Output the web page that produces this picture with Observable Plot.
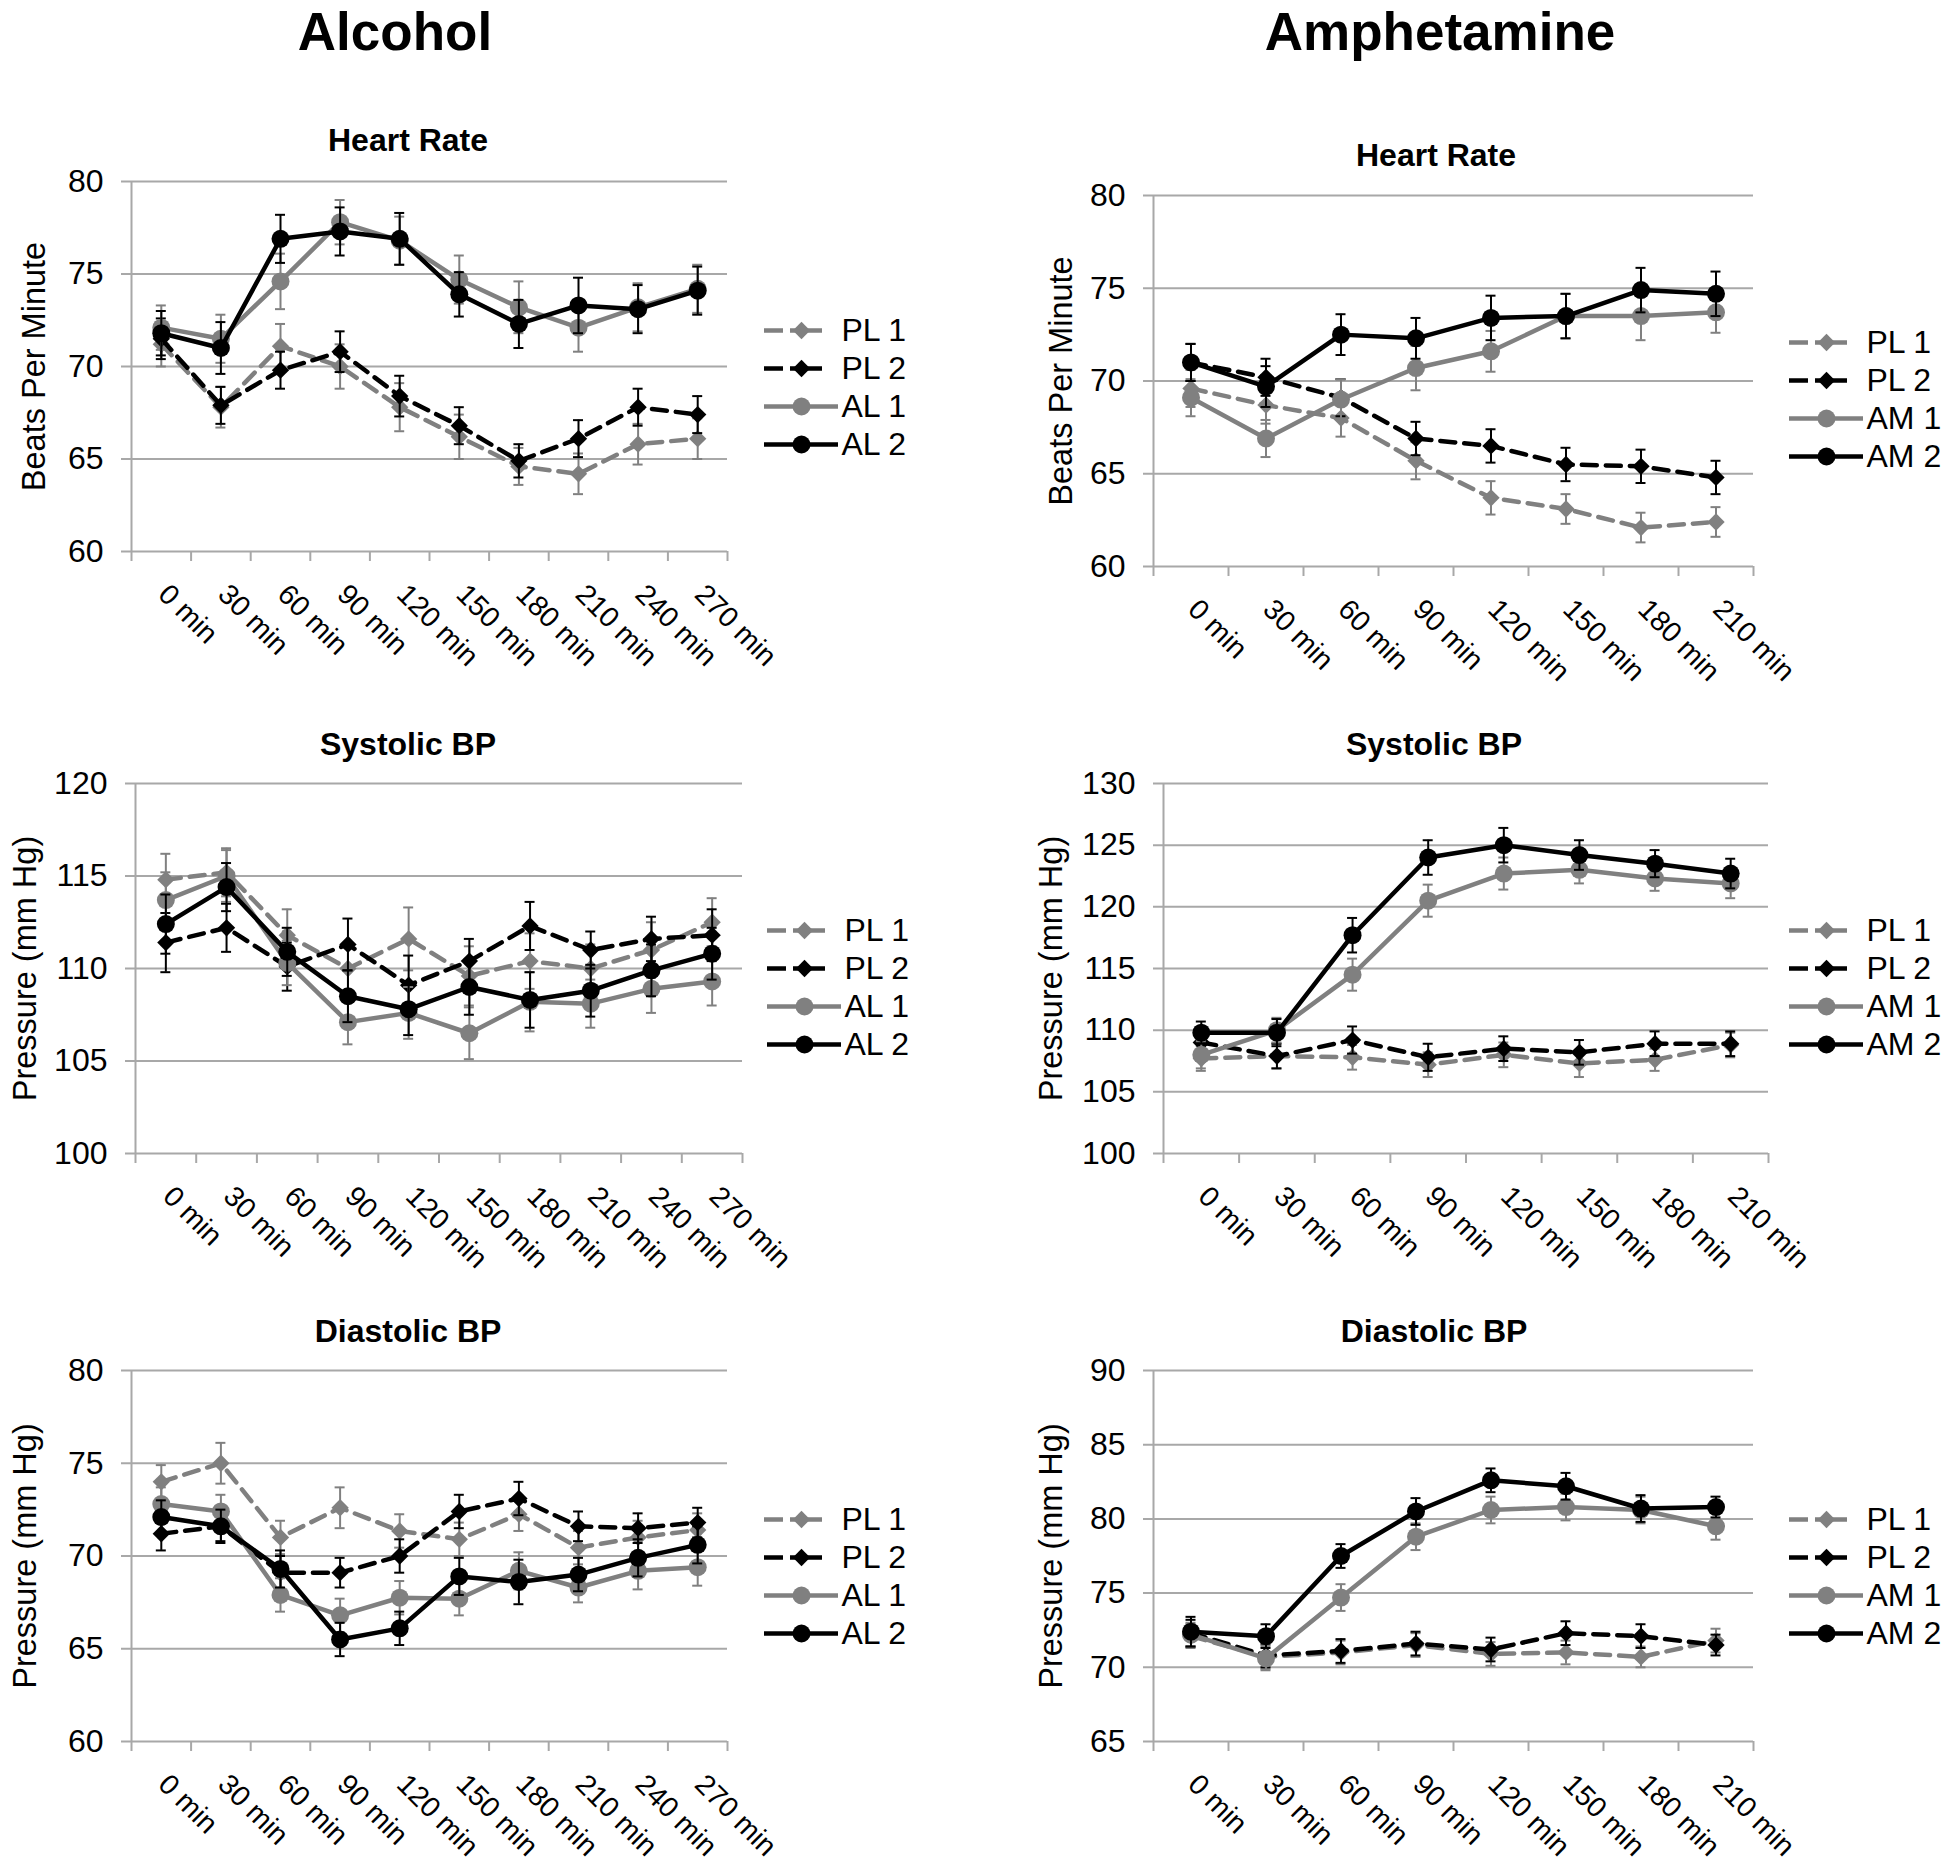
<!DOCTYPE html>
<html><head><meta charset="utf-8">
<script src="https://cdn.jsdelivr.net/npm/d3@7"></script>
<script src="https://cdn.jsdelivr.net/npm/@observablehq/plot@0.6"></script>
<style>
body{margin:0;background:#fff;}
#root{position:relative;width:1950px;height:1872px;overflow:hidden;font-family:"Liberation Sans",Arial,sans-serif;background:#fff;}
.abs{position:absolute;}
.abs svg{max-width:none !important;}
.main{font-weight:bold;font-size:53px;line-height:1.15;transform:translate(-50%,-50%);white-space:nowrap;}
.sub{font-weight:bold;font-size:32px;line-height:1.15;transform:translate(-50%,-50%);white-space:nowrap;}
</style></head>
<body><div id="root"></div>
<script>
// ---------- categories ----------
const alcTimes = ["0 min","30 min","60 min","90 min","120 min","150 min","180 min","210 min","240 min","270 min"];
const amphTimes = ["0 min","30 min","60 min","90 min","120 min","150 min","180 min","210 min"];
const alcNames = ["PL 1","PL 2","AL 1","AL 2"];
const amphNames = ["PL 1","PL 2","AM 1","AM 2"];

// ---------- tick labels ----------
const hrTicks = [60,65,70,75,80];
const alcSbpTicks = [100,105,110,115,120];
const amphSbpTicks = [100,105,110,115,120,125,130];
const alcDbpTicks = [60,65,70,75,80];
const amphDbpTicks = [65,70,75,80,85,90];

// ---------- Alcohol: Heart Rate ----------
const alcHR_PL1 = [71.2,67.8,71.1,70.0,67.8,66.2,64.6,64.2,65.8,66.1];
const alcHR_PL2 = [71.5,67.9,69.8,70.8,68.4,66.8,64.9,66.1,67.8,67.4];
const alcHR_AL1 = [72.1,71.5,74.6,77.8,76.8,74.7,73.2,72.1,73.2,74.2];
const alcHR_AL2 = [71.8,71.0,76.9,77.3,76.9,73.9,72.3,73.3,73.1,74.1];
const alcHR_PL1_se = [1.2,1.1,1.2,1.2,1.3,1.2,1.0,1.1,1.1,1.1];
const alcHR_PL2_se = [1.1,1.0,1.0,1.1,1.1,1.0,0.9,1.0,1.0,1.0];
const alcHR_AL1_se = [1.2,1.3,1.5,1.2,1.3,1.3,1.4,1.3,1.3,1.3];
const alcHR_AL2_se = [1.2,1.4,1.3,1.3,1.4,1.2,1.3,1.5,1.3,1.3];

// ---------- Amphetamine: Heart Rate ----------
const amphHR_PL1 = [69.6,68.7,68.0,65.7,63.7,63.1,62.1,62.4];
const amphHR_PL2 = [71.0,70.2,69.1,66.9,66.5,65.5,65.4,64.8];
const amphHR_AM1 = [69.1,66.9,69.0,70.7,71.6,73.5,73.5,73.7];
const amphHR_AM2 = [71.0,69.7,72.5,72.3,73.4,73.5,74.9,74.7];
const amphHR_PL1_se = [1.0,1.0,1.0,1.0,0.9,0.8,0.8,0.8];
const amphHR_PL2_se = [1.0,1.0,1.0,0.9,0.9,0.9,0.9,0.9];
const amphHR_AM1_se = [1.0,1.0,1.1,1.2,1.1,1.2,1.3,1.1];
const amphHR_AM2_se = [1.0,1.1,1.1,1.1,1.2,1.2,1.2,1.2];

// ---------- Alcohol: Systolic BP ----------
const alcSBP_PL1 = [114.8,115.2,111.8,110.0,111.6,109.6,110.4,110.0,111.0,112.5];
const alcSBP_PL2 = [111.4,112.2,110.1,111.3,109.1,110.4,112.3,111.0,111.6,111.8];
const alcSBP_AL1 = [113.7,115.0,110.3,107.1,107.6,106.5,108.2,108.1,108.9,109.3];
const alcSBP_AL2 = [112.4,114.4,110.9,108.5,107.8,109.0,108.3,108.8,109.9,110.8];
const alcSBP_PL1_se = [1.4,1.3,1.4,1.3,1.7,1.6,1.5,1.3,1.5,1.3];
const alcSBP_PL2_se = [1.6,1.3,1.3,1.4,1.6,1.2,1.3,1.0,1.2,1.4];
const alcSBP_AL1_se = [1.5,1.4,1.2,1.2,1.4,1.4,1.6,1.3,1.3,1.3];
const alcSBP_AL2_se = [1.6,1.3,1.3,1.4,1.4,1.5,1.5,1.4,1.4,1.4];

// ---------- Amphetamine: Systolic BP ----------
const amphSBP_PL1 = [107.7,107.9,107.8,107.2,108.0,107.3,107.6,108.8];
const amphSBP_PL2 = [109.0,107.9,109.2,107.8,108.5,108.2,108.9,108.9];
const amphSBP_AM1 = [108.0,110.0,114.5,120.5,122.7,123.0,122.3,121.9];
const amphSBP_AM2 = [109.8,109.8,117.7,124.0,125.0,124.2,123.5,122.7];
const amphSBP_PL1_se = [1.0,1.0,1.0,1.0,1.0,1.1,0.9,1.0];
const amphSBP_PL2_se = [0.9,1.0,1.1,1.1,1.0,1.0,1.0,1.0];
const amphSBP_AM1_se = [1.1,1.0,1.3,1.3,1.3,1.1,1.0,1.2];
const amphSBP_AM2_se = [0.9,1.1,1.4,1.4,1.4,1.2,1.1,1.2];

// ---------- Alcohol: Diastolic BP ----------
const alcDBP_PL1 = [74.0,75.0,71.0,72.6,71.35,70.9,72.25,70.45,71.0,71.4];
const alcDBP_PL2 = [71.2,71.6,69.1,69.1,70.0,72.4,73.1,71.6,71.5,71.8];
const alcDBP_AL1 = [72.8,72.4,67.9,66.8,67.75,67.7,69.2,68.3,69.2,69.4];
const alcDBP_AL2 = [72.1,71.6,69.3,65.5,66.1,68.9,68.6,69.0,69.9,70.6];
const alcDBP_PL1_se = [0.9,1.1,0.9,1.1,0.9,0.9,0.9,0.9,0.9,0.9];
const alcDBP_PL2_se = [0.9,0.8,0.9,0.8,0.9,0.9,0.9,0.8,0.8,0.8];
const alcDBP_AL1_se = [0.9,0.9,0.9,0.9,0.9,0.9,1.0,0.8,1.0,1.0];
const alcDBP_AL2_se = [0.9,0.9,1.0,0.9,0.9,1.0,1.2,0.9,1.0,1.0];

// ---------- Amphetamine: Diastolic BP ----------
const amphDBP_PL1 = [72.1,70.7,71.0,71.5,70.9,71.0,70.7,71.8];
const amphDBP_PL2 = [72.3,70.8,71.1,71.6,71.2,72.3,72.1,71.5];
const amphDBP_AM1 = [72.2,70.6,74.7,78.8,80.6,80.8,80.6,79.5];
const amphDBP_AM2 = [72.4,72.1,77.5,80.5,82.6,82.2,80.7,80.8];
const amphDBP_PL1_se = [0.8,0.8,0.8,0.8,0.8,0.8,0.7,0.8];
const amphDBP_PL2_se = [0.9,0.8,0.8,0.8,0.8,0.8,0.8,0.7];
const amphDBP_AM1_se = [0.8,0.8,0.9,0.9,0.9,0.9,0.9,0.9];
const amphDBP_AM2_se = [1.0,0.8,0.8,0.9,0.8,0.9,0.9,0.7];

// ---------- styling ----------
const GRAY = "#808080", BLACK = "#000000", GRID = "#a8a8a8";
const REG = "'Liberation Sans',Arial,sans-serif";
const styles = [
  {stroke: GRAY, dash: "15 9", legendDash: "19 7 32 100", symbol: "diamond2", r: 7.8},
  {stroke: BLACK, dash: "15 9", legendDash: "19 7 32 100", symbol: "diamond2", r: 7.8},
  {stroke: GRAY, dash: null, legendDash: null, symbol: "circle", r: 9},
  {stroke: BLACK, dash: null, legendDash: null, symbol: "circle", r: 9}
];

const root = document.getElementById("root");
function place(node, x, y, w) {
  const d = document.createElement("div");
  d.className = "abs"; d.style.left = x + "px"; d.style.top = y + "px"; d.style.width = w + "px";
  d.appendChild(node); root.appendChild(d); return d;
}
function label(text, cls, x, y) {
  const d = document.createElement("div");
  d.className = "abs " + cls; d.textContent = text;
  d.style.left = x + "px"; d.style.top = y + "px";
  root.appendChild(d);
}

function panel(cfg) {
  const {times, values, ses, ticks, left, right, top, bottom, ytitle, ytitleDx} = cfg;
  const n = times.length;
  const dmin = ticks[0], dmax = ticks[ticks.length - 1];
  const mL = 150, mR = 10, mT = 10, mB = 150;
  const boundaries = d3.range(n + 1).map(k => k - 0.5);
  const marks = [
    Plot.ruleY(ticks, {y: d => d, x1: -0.5, x2: n - 0.5, stroke: GRID, strokeWidth: 2, insetLeft: -10}),
    Plot.ruleX([-0.5], {x: d => d, y1: dmin, y2: dmax, stroke: GRID, strokeWidth: 2}),
    Plot.ruleX(boundaries, {x: d => d, y1: dmin, y2: dmin, insetBottom: -10, stroke: GRID, strokeWidth: 2}),
    Plot.text(ticks, {x: -0.5, y: d => d, text: d => String(d), textAnchor: "end", dx: -28, fontSize: 32, fontFamily: REG, fill: "#000"}),
    Plot.text(times, {x: (d, i) => i, y: dmin, text: d => d, rotate: 45, textAnchor: "start", dx: 2, dy: 38, fontSize: 28.5, fontFamily: REG, fill: "#000"}),
    Plot.text([ytitle], {frameAnchor: "left", text: d => d, rotate: -90, textAnchor: "middle", dx: ytitleDx, fontSize: 32.5, fontFamily: REG, fill: "#000"})
  ];
  values.forEach((vals, s) => {
    const st = styles[s];
    const rows = vals.map((v, i) => ({i, v, e: ses[s][i]}));
    marks.push(
      Plot.ruleX(rows, {x: "i", y1: d => d.v - d.e, y2: d => d.v + d.e, stroke: st.stroke, strokeWidth: 2}),
      Plot.ruleY(rows, {y: d => d.v + d.e, x1: "i", x2: "i", insetLeft: -5, insetRight: -5, stroke: st.stroke, strokeWidth: 2}),
      Plot.ruleY(rows, {y: d => d.v - d.e, x1: "i", x2: "i", insetLeft: -5, insetRight: -5, stroke: st.stroke, strokeWidth: 2}),
      Plot.lineY(rows, {x: "i", y: "v", stroke: st.stroke, strokeWidth: 4.5, strokeDasharray: st.dash || undefined}),
      Plot.dot(rows, {x: "i", y: "v", r: st.r, symbol: st.symbol, fill: st.stroke, stroke: "none"})
    );
  });
  const W = (right - left) + mL + mR;
  const chart = Plot.plot({
    width: W,
    height: (bottom - top) + mT + mB,
    marginLeft: mL, marginRight: mR, marginTop: mT, marginBottom: mB,
    style: {background: "transparent", overflow: "visible", maxWidth: "none"},
    x: {type: "linear", domain: [-0.5, n - 0.5], axis: null},
    y: {type: "linear", domain: [dmin, dmax], axis: null},
    marks
  });
  place(chart, left - mL, top - mT, W);
}

function legend(names, x, y0) {
  const rowH = 51.5, pad = 26;
  const W = 200;
  const chart = Plot.plot({
    width: W, height: pad * 2 + rowH * 3,
    margin: 0,
    style: {background: "transparent", overflow: "visible", maxWidth: "none"},
    x: {type: "linear", domain: [0, 1], range: [0, 74], axis: null},
    y: {type: "point", domain: names, range: [pad, pad + rowH * 3], axis: null},
    marks: [
      ...names.map((nm, s) => Plot.ruleY([nm], {y: d => d, x1: 0, x2: 1, stroke: styles[s].stroke, strokeWidth: 4.5, strokeDasharray: styles[s].legendDash || undefined})),
      ...names.map((nm, s) => Plot.dot([nm], {y: d => d, x: 0.5, r: styles[s].r, symbol: styles[s].symbol, fill: styles[s].stroke, stroke: "none"})),
      Plot.text(names, {y: d => d, x: 1, text: d => d, dx: 3, textAnchor: "start", fontSize: 32, fontFamily: REG, fill: "#000"})
    ]
  });
  place(chart, x, y0 - pad, W);
}

// ---------- titles ----------
label("Alcohol", "main", 395, 32);
label("Amphetamine", "main", 1440, 32);
label("Heart Rate", "sub", 408, 140);
label("Heart Rate", "sub", 1436, 155);
label("Systolic BP", "sub", 408, 744);
label("Systolic BP", "sub", 1434, 744);
label("Diastolic BP", "sub", 408, 1331);
label("Diastolic BP", "sub", 1434, 1331);

// ---------- panels ----------
panel({times: alcTimes, ticks: hrTicks, ytitle: "Beats Per Minute", ytitleDx: -97,
  values: [alcHR_PL1, alcHR_PL2, alcHR_AL1, alcHR_AL2],
  ses: [alcHR_PL1_se, alcHR_PL2_se, alcHR_AL1_se, alcHR_AL2_se],
  left: 131, right: 727, top: 181, bottom: 551});
panel({times: amphTimes, ticks: hrTicks, ytitle: "Beats Per Minute", ytitleDx: -92,
  values: [amphHR_PL1, amphHR_PL2, amphHR_AM1, amphHR_AM2],
  ses: [amphHR_PL1_se, amphHR_PL2_se, amphHR_AM1_se, amphHR_AM2_se],
  left: 1153, right: 1753, top: 195, bottom: 566});
panel({times: alcTimes, ticks: alcSbpTicks, ytitle: "Pressure (mm Hg)", ytitleDx: -110,
  values: [alcSBP_PL1, alcSBP_PL2, alcSBP_AL1, alcSBP_AL2],
  ses: [alcSBP_PL1_se, alcSBP_PL2_se, alcSBP_AL1_se, alcSBP_AL2_se],
  left: 135, right: 742, top: 783, bottom: 1153});
panel({times: amphTimes, ticks: amphSbpTicks, ytitle: "Pressure (mm Hg)", ytitleDx: -112,
  values: [amphSBP_PL1, amphSBP_PL2, amphSBP_AM1, amphSBP_AM2],
  ses: [amphSBP_PL1_se, amphSBP_PL2_se, amphSBP_AM1_se, amphSBP_AM2_se],
  left: 1163, right: 1768, top: 783, bottom: 1153});
panel({times: alcTimes, ticks: alcDbpTicks, ytitle: "Pressure (mm Hg)", ytitleDx: -106,
  values: [alcDBP_PL1, alcDBP_PL2, alcDBP_AL1, alcDBP_AL2],
  ses: [alcDBP_PL1_se, alcDBP_PL2_se, alcDBP_AL1_se, alcDBP_AL2_se],
  left: 131, right: 727, top: 1370, bottom: 1741});
panel({times: amphTimes, ticks: amphDbpTicks, ytitle: "Pressure (mm Hg)", ytitleDx: -102,
  values: [amphDBP_PL1, amphDBP_PL2, amphDBP_AM1, amphDBP_AM2],
  ses: [amphDBP_PL1_se, amphDBP_PL2_se, amphDBP_AM1_se, amphDBP_AM2_se],
  left: 1153, right: 1753, top: 1370, bottom: 1741});

// ---------- legends ----------
legend(alcNames, 764, 310);
legend(amphNames, 1789, 322);
legend(alcNames, 767, 910);
legend(amphNames, 1789, 910);
legend(alcNames, 764, 1499);
legend(amphNames, 1789, 1499);
</script>
</body></html>
